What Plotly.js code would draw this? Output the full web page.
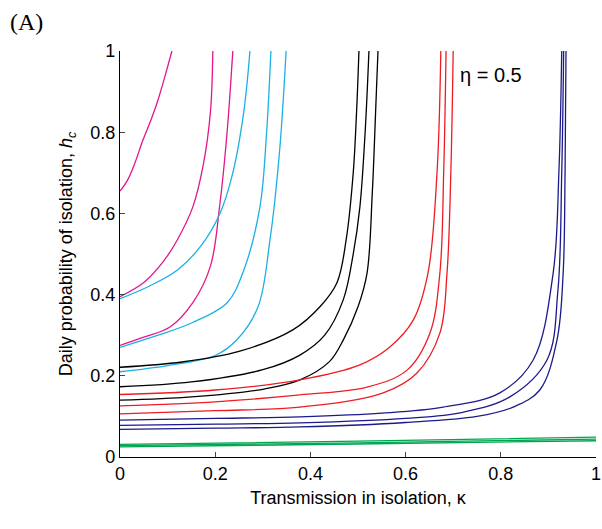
<!DOCTYPE html>
<html><head><meta charset="utf-8">
<script src="https://cdn.plot.ly/plotly-3.0.1.min.js"></script>
<style>body{margin:0;background:#fff}</style>
</head><body>
<div id="chart" style="width:602px;height:529px"></div>
<script>
// curves: [kappa values, h_c values]
const magenta1 = [[0,0.015,0.03,0.048,0.065,0.08,0.095,0.109],[0.655,0.68,0.72,0.78,0.83,0.88,0.94,1]];
const magenta2 = [[0,0.05,0.09,0.12,0.153,0.175,0.19,0.195],[0.395,0.43,0.48,0.534,0.616,0.72,0.85,1]];
const magenta3 = [[0,0.05,0.105,0.153,0.19,0.21,0.225,0.237],[0.275,0.295,0.32,0.38,0.47,0.625,0.8,1]];
const cyan1 = [[0,0.06,0.12,0.17,0.21,0.237,0.26,0.273],[0.39,0.42,0.46,0.52,0.6,0.7,0.85,1]];
const cyan2 = [[0,0.08,0.15,0.225,0.26,0.294,0.308,0.317],[0.27,0.3,0.33,0.38,0.46,0.616,0.8,1]];
const cyan3 = [[0,0.1,0.2,0.245,0.29,0.315,0.335,0.349],[0.21,0.225,0.25,0.288,0.37,0.534,0.75,1]];
const black1 = [[0,0.13,0.25,0.363,0.42,0.456,0.475,0.49,0.497,0.502],[0.221,0.234,0.26,0.313,0.37,0.43,0.534,0.7,0.85,1]];
const black2 = [[0,0.15,0.3,0.378,0.43,0.469,0.49,0.504,0.515,0.523],[0.173,0.185,0.215,0.251,0.3,0.387,0.5,0.616,0.8,1]];
const black3 = [[0,0.15,0.305,0.378,0.44,0.469,0.5,0.519,0.53,0.537,0.542],[0.14,0.148,0.168,0.19,0.235,0.288,0.37,0.453,0.65,0.85,1]];
const red1 = [[0,0.2,0.378,0.504,0.567,0.616,0.647,0.666,0.674],[0.154,0.165,0.19,0.227,0.271,0.337,0.453,0.7,1]];
const red2 = [[0,0.2,0.378,0.519,0.603,0.651,0.672,0.68,0.685],[0.126,0.136,0.153,0.172,0.214,0.305,0.453,0.7,1]];
const red3 = [[0,0.2,0.378,0.553,0.624,0.672,0.687,0.695,0.7],[0.106,0.114,0.123,0.158,0.207,0.305,0.453,0.7,1]];
const navy1 = [[0,0.2,0.378,0.55,0.679,0.798,0.868,0.91,0.922,0.928],[0.091,0.095,0.099,0.108,0.123,0.158,0.239,0.453,0.7,1]];
const navy2 = [[0,0.2,0.378,0.6,0.72,0.819,0.897,0.92,0.928,0.932],[0.078,0.081,0.084,0.095,0.11,0.148,0.239,0.41,0.7,1]];
const navy3 = [[0,0.2,0.378,0.6,0.75,0.826,0.882,0.918,0.931,0.935,0.937],[0.068,0.071,0.074,0.085,0.1,0.123,0.165,0.288,0.453,0.7,1]];
const green1 = [[0,0.5,1],[0.031,0.039,0.049]];
const green2 = [[0,0.5,1],[0.028,0.035,0.044]];
const green3 = [[0,0.5,1],[0.025,0.032,0.040]];

const groups = [
  ['#e3168b', [magenta1, magenta2, magenta3]],
  ['#1cb0e6', [cyan1, cyan2, cyan3]],
  ['#000000', [black1, black2, black3]],
  ['#ee1c24', [red1, red2, red3]],
  ['#1b1a8a', [navy1, navy2, navy3]],
  ['#00a651', [green1, green2, green3]]
];
const traces = [];
groups.forEach(([col, curves]) => curves.forEach(c => traces.push({
  x: c[0], y: c[1], mode: 'lines', line: {color: col, width: 1.3, shape: 'spline', smoothing: 1},
  hoverinfo: 'skip'
})));

const font = {family: 'Liberation Sans, Arial, sans-serif', size: 18, color: '#000'};
Plotly.newPlot('chart', traces, {
  width: 602, height: 529,
  margin: {l: 120, r: 6, t: 51, b: 72},
  showlegend: false,
  paper_bgcolor: '#fff', plot_bgcolor: '#fff',
  font: font,
  xaxis: {range: [0, 1], tickvals: [0, 0.2, 0.4, 0.6, 0.8, 1], ticktext: ['0','0.2','0.4','0.6','0.8','1'],
    ticks: 'inside', ticklen: 5, showline: true, linecolor: '#000', linewidth: 1.2, showgrid: false, zeroline: false,
    title: {text: 'Transmission in isolation, κ', font: font, standoff: 8}},
  yaxis: {range: [0, 1], tickvals: [0, 0.2, 0.4, 0.6, 0.8, 1], ticktext: ['0','0.2','0.4','0.6','0.8','1'],
    ticks: 'inside', ticklen: 5, showline: true, linecolor: '#000', linewidth: 1.2, showgrid: false, zeroline: false,
    title: {text: 'Daily probability of isolation, <i>h</i><sub><i>c</i></sub>', font: font, standoff: 12}},
  annotations: [
    {text: '(A)', xref: 'paper', yref: 'paper', x: -0.235, y: 1.072, xanchor: 'left', yanchor: 'middle', showarrow: false,
     font: {family: 'Liberation Serif, Times New Roman, serif', size: 24, color: '#000'}},
    {text: 'η = 0.5', xref: 'paper', yref: 'paper', x: 0.71, y: 0.94, xanchor: 'left', yanchor: 'middle', showarrow: false,
     font: {family: 'Liberation Sans, Arial, sans-serif', size: 20, color: '#000'}}
  ]
}, {displayModeBar: false, staticPlot: true});
</script>
</body></html>
